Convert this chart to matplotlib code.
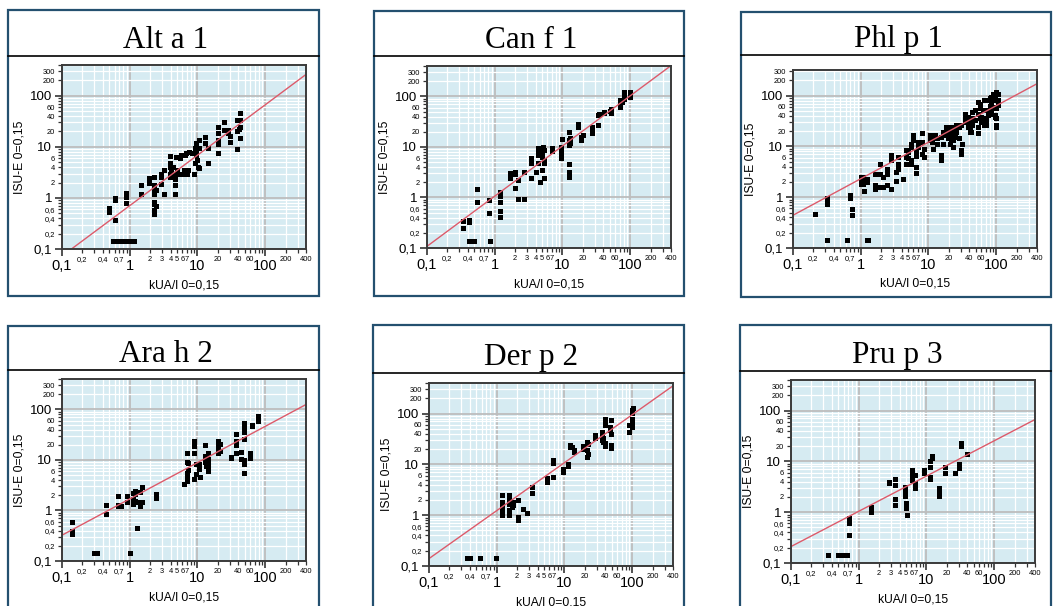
import numpy as np
import matplotlib.pyplot as plt
from matplotlib.patches import Rectangle
from matplotlib.lines import Line2D

plt.rcParams['font.family'] = ['Liberation Sans', 'DejaVu Sans']

W, H = 1057, 606

titles = ['Alt a 1', 'Can f 1', 'Phl p 1', 'Ara h 2', 'Der p 2', 'Pru p 3']

# regression line: log10(y) = slope * log10(x) + icpt
fit_slope = [0.987, 0.993, 0.719, 0.718, 0.944, 0.694]
fit_icpt = [-0.151, 0.026, 0.364, 0.229, 0.090, 0.018]

# Alt a 1
alt_x = [0.49, 0.49, 0.60, 0.60, 0.60, 0.89, 0.89, 0.89,
         0.56, 0.62, 0.68, 0.74, 0.80, 0.87, 0.95, 1.02, 1.10, 1.17,
         1.49, 1.49, 1.9, 1.9, 2.26, 2.26, 2.26, 2.26, 2.26, 2.26, 2.26, 2.26,
         2.47, 2.47, 2.93, 2.93, 2.93, 3.2, 3.2,
         3.88, 3.88, 3.88, 3.88, 3.88, 4.1, 4.35, 4.45, 4.6, 4.6, 4.6,
         4.86, 5.03, 5.32, 5.45, 5.77, 5.96, 6.24, 6.53, 6.83, 7.06, 7.24, 7.6, 8.4, 8.85, 9.06,
         9.6, 9.6, 9.6, 9.6, 9.8, 10.2, 10.5, 10.5, 10.5, 9.06,
         13.1, 13.1, 14.4, 14.4,
         20.2, 20.2, 20.2, 20.2, 20.2, 24.3, 24.3, 28, 28, 30.4, 30.4,
         38.6, 38.6, 38.6, 42.6, 42.6, 42.6, 42.6, 41]
alt_y = [0.645, 0.53, 1.0, 0.9, 0.37, 1.27, 1.05, 0.81,
         0.142, 0.142, 0.142, 0.142, 0.142, 0.142, 0.142, 0.142, 0.142, 0.142,
         1.78, 1.22, 2.48, 1.92, 2.59, 1.78, 1.42, 1.18, 0.83, 0.75, 0.57, 0.49,
         1.42, 0.68, 3.0, 1.86, 2.6, 3.5, 1.2,
         6.7, 4.75, 4.08, 3.0, 2.59, 3.5, 4.08, 3.0, 2.33, 1.78, 1.22,
         6.4, 3.5, 3.0, 5.95, 6.9, 3.0, 3.5, 6.9, 7.5, 3.0, 3.5, 8.05, 7.5, 3.0, 4.75,
         11.8, 10.1, 8.05, 6.9, 5.5, 4.08, 13.7, 9.4, 3.78, 9.4,
         15.4, 11.7, 9.3, 4.9,
         25, 18.5, 13.7, 11.4, 7.7, 30, 21.5, 21.5, 18.5, 16, 12.7,
         34, 20, 9, 46, 34, 25, 14.7, 22]

# Can f 1
can_x = [0.34, 0.34, 0.42, 0.42, 0.42, 0.5, 0.55, 0.55, 0.83, 0.83, 0.85,
         1.2, 1.2, 1.2, 1.2, 1.2, 1.2,
         1.68, 1.68, 1.68, 2.0, 2.0, 2.0, 2.24, 2.24, 2.68, 2.68,
         3.4, 3.4, 3.4, 3.4, 4.08, 4.3, 4.3, 4.3, 4.3, 4.67, 4.67, 4.67, 5.0, 5.0, 5.0,
         5.3, 5.3, 5.3, 5.3, 4.9, 5.1,
         7.0, 7.0, 9.6, 9.6, 9.6, 9.6, 10,
         12.3, 12.3, 12.3, 12.3, 12.3, 12.3, 12.3, 13, 13,
         17.1, 17.1, 18.6, 18.6, 20.3, 27.7, 27.7, 27.7, 27.7, 33.6, 33.6, 35, 41.7, 41.7,
         52.4, 52.4, 50, 71, 71, 71, 75, 80.4, 80.4, 80.4, 98.6, 98.6, 98.6]
can_y = [0.25, 0.35, 0.36, 0.32, 0.14, 0.14, 1.46, 0.81, 0.9, 0.49, 0.14,
         1.31, 1.05, 0.83, 0.53, 0.42, 1.15,
         3.0, 2.4, 2.7, 3.25, 1.53, 2.9, 2.23, 0.94, 3.25, 0.94,
         5.96, 4.75, 2.4, 5.3, 3.25, 9.4, 8.1, 7.0, 4.75, 9.4, 7.6, 2.0, 7.6, 6.4, 3.5,
         8.7, 5.5, 4.75, 2.4, 8.4, 9.8,
         9.4, 8.4, 10.1, 8.1, 7.0, 5.96, 14.1,
         20, 13.7, 11.8, 10.9, 4.6, 3.25, 2.6, 15, 12,
         29, 25, 15.5, 13.7, 17.2, 25, 21.6, 18.6, 23, 42.5, 27, 44, 49, 46,
         57.6, 46, 52, 67, 84, 62, 78, 122, 98, 87, 122, 98, 108]

# Phl p 1
phl_x = [0.21, 0.315, 0.315, 0.315, 0.315, 0.62, 0.69, 0.69, 0.75, 0.75, 1.25, 1.3,
         1.0, 1.0, 1.0, 1.08, 1.08, 1.08, 1.12, 1.23, 1.23,
         1.61, 1.61, 1.61, 1.7, 1.95, 1.95, 1.95, 2.14, 2.14, 2.42, 2.42, 2.42,
         2.77, 2.77, 2.77, 3.37, 3.37, 3.55, 3.55, 3.55, 4.2, 4.6, 4.6, 4.6, 5.0, 5.0,
         5.6, 5.6, 5.6, 5.6, 5.9, 5.9, 6.6, 6.6, 6.6, 6.6, 7.0, 7.0, 7.9, 7.9, 7.9, 8.5, 8.5,
         10.5, 10.5, 10.5, 11.3, 11.6, 12.3, 12.3, 13.2, 13.2, 15.2, 15.2, 15.2,
         16.5, 16.5, 18, 18, 19.5, 19.5, 19.5, 20.6, 20.6, 21.8, 21.8, 21.8, 23, 23,
         24.5, 24.5, 24.5, 25.9, 25.9, 28, 28, 30.6, 30.6, 30.6, 31.6,
         35, 35, 35, 38.5, 38.5, 38.5, 40.5, 40.5, 40.5, 42, 44.5, 44.5, 44.5, 48, 48,
         54, 54, 54, 54, 57, 57, 57, 60, 60, 64, 64, 67, 67, 71, 71, 71, 76, 76, 76,
         80, 80, 80, 85, 85, 85, 90, 90, 90, 95, 95, 95, 95,
         100, 100, 100, 100, 100, 100, 106, 106, 106]
phl_y = [0.47, 0.98, 0.81, 0.73, 0.146, 0.146, 1.1, 0.98, 0.58, 0.44, 0.146, 0.146,
         2.5, 2.0, 1.86, 2.5, 2.2, 1.86, 1.33, 2.33, 2.0,
         2.9, 1.72, 1.48, 2.9, 4.47, 2.9, 1.6, 2.5, 1.6, 3.67, 2.9, 1.72,
         6.7, 5.35, 1.48, 3.15, 2.1, 6.2, 4.6, 3.67, 2.33, 8.4, 6.2, 4.6, 7.8, 5.8,
         11.4, 9.8, 5.5, 4.6, 16.7, 13.3, 7.8, 6.4, 3.95, 3.0, 12.4, 9.8, 18.5, 12.4, 7.2, 9.0, 6.2,
         16.7, 15.5, 13.3, 12.4, 9.0, 16.7, 14.4, 14.4, 11.4, 15.5, 6.7, 5.5,
         19.5, 11.4, 24.3, 16.7, 24.3, 21, 14.4, 19.5, 11.4, 24.3, 15.5, 13.3, 13.3, 9.8,
         21, 18, 15.5, 26, 19.5, 24.3, 14.4, 26, 8.4, 7.2, 11.4,
         44.5, 38, 30, 38, 28, 24.3, 33, 24, 19.5, 19.5, 48, 36, 26, 52, 33,
         75, 44.5, 24.3, 18, 70, 56, 36, 38, 30, 52, 36, 81, 26, 52, 33, 26, 81, 47, 42,
         88, 62, 44, 95, 75, 52, 110, 81, 60, 100, 81, 42, 38,
         118, 81, 56, 36, 26, 24, 110, 81, 64]

# Ara h 2
ara_x = [0.142, 0.142, 0.142, 0.30, 0.33, 0.45, 0.45, 0.67, 0.67, 0.67, 0.75,
         0.92, 0.92, 1.0, 1.1, 1.1, 1.1, 1.18, 1.18, 1.18, 1.3, 1.3, 1.4, 1.4, 1.54, 1.54,
         2.42, 2.42, 6.27, 6.9, 6.9, 6.9, 6.9, 6.9, 7.3, 7.3,
         8.8, 8.8, 8.8, 8.8, 9.6, 9.6, 10.5, 10.5, 10.8,
         12.8, 12.8, 12.8, 13.5, 13.5, 14.3, 14.3, 14.3, 14.5, 14.5,
         20, 20, 20, 20, 21.6, 21.6, 31.5, 31.5, 36.6, 36.6, 36.6, 36.6,
         44.5, 44.5, 48.8, 48.8, 48.8, 48.8, 48.8, 48.8, 48.8,
         59, 59, 63, 63, 77, 77, 77]
ara_y = [0.58, 0.40, 0.34, 0.146, 0.146, 1.28, 0.85, 1.9, 1.28, 1.24, 1.24,
         1.95, 1.48, 0.146, 2.17, 1.37, 1.67, 2.44, 2.1, 1.55, 1.48, 0.46, 2.3, 1.24, 2.9, 1.44,
         2.1, 1.8, 3.3, 13.7, 9.2, 5.6, 4.8, 3.8, 8.8, 6.2,
         24, 19, 14, 4.2, 8.3, 5.2, 8.3, 6.6, 4.5,
         20, 12, 9.2, 11, 7.6, 14, 7.6, 6.0, 10.3, 8.3,
         24, 19, 15, 14, 21, 15, 11.5, 11, 32, 24, 20, 14,
         14.4, 10.3, 55, 44, 35, 25.5, 9.8, 8.2, 5.6,
         14, 11, 50, 46, 74, 63, 58]

# Der p 2
der_x = [0.37, 0.40, 0.57, 0.98,
         1.19, 1.19, 1.19, 1.19, 1.19, 1.54, 1.54, 1.54, 1.54, 1.54, 1.66, 1.66, 1.76, 1.76,
         2.04, 2.04, 2.04, 2.48, 2.77, 3.33, 3.33, 5.48, 5.48, 6.7, 6.7, 6.7,
         9.4, 9.4, 11.2, 11.2, 12.1, 12.1, 12.8, 13.9, 13.9,
         19, 19, 21.3, 21.3, 21.3, 22.5, 22.5, 28.2, 28.2, 35.5, 35.5, 35.5, 37.6, 37.6,
         39.8, 39.8, 39.8, 39.8, 39.8, 47, 47, 48, 48, 48, 48,
         91, 91, 98.5, 98.5, 98.5, 98.5, 98.5, 104]
der_y = [0.144, 0.144, 0.144, 0.144,
         2.48, 1.83, 1.57, 1.25, 1.03, 2.48, 2.03, 1.65, 1.25, 1.0, 1.7, 1.46, 1.83, 1.57,
         1.97, 0.93, 0.82, 1.35, 1.1, 3.6, 2.75, 5.3, 4.5, 12.1, 10.7, 5.7,
         8.3, 7.2, 10.4, 9.2, 24, 22, 22, 19, 17.5,
         23, 20.5, 28, 19, 14, 25, 16, 37.6, 32.5, 43.7, 35, 30, 33, 28,
         80, 69, 59, 26, 23, 55, 47.5, 76, 40, 24, 21.5,
         59, 43.7, 117, 101, 80, 64, 55, 128]

# Pru p 3
pru_x = [0.35, 0.50, 0.59, 0.64, 0.67, 0.71, 0.71, 0.71,
         1.54, 1.54, 1.54, 2.77, 2.77, 3.4, 3.4, 3.4, 3.4,
         4.78, 4.78, 4.78, 5.05, 5.05, 5.24, 6.2, 6.2, 6.2, 6.2, 6.7, 6.7, 6.7,
         9.2, 9.2, 11.4, 11.4, 11.4, 11.4, 12.2, 12.2, 15.5, 15.5, 15.5,
         18.6, 18.6, 26, 29.8, 29.8, 32, 32, 40]
pru_y = [0.146, 0.146, 0.146, 0.146, 0.146, 0.76, 0.61, 0.36,
         1.29, 1.11, 1.03, 4.0, 3.8, 4.5, 3.5, 1.8, 1.4,
         3.2, 2.55, 2.04, 1.5, 1.2, 0.89, 6.8, 5.7, 5.0, 4.3, 5.4, 3.7, 3.05,
         6.8, 5.9, 10, 7.9, 5.0, 4.6, 12.5, 11.6, 2.97, 2.55, 2.04,
         7.9, 5.9, 5.9, 9, 7.4, 22.9, 20.3, 14]

xs_all = [alt_x, can_x, phl_x, ara_x, der_x, pru_x]
ys_all = [alt_y, can_y, phl_y, ara_y, der_y, pru_y]
y_top = [400, 400, 320, 400, 400, 400]

x_major = [0.1, 1, 10, 100]
x_major_lab = ['0,1', '1', '10', '100']
x_minor_lab = {0.2: '0,2', 0.4: '0,4', 0.7: '0,7', 2: '2', 3: '3', 4: '4', 5: '5',
               6: '6', 7: '7', 20: '20', 40: '40', 60: '60', 200: '200', 400: '400'}
y_minor_lab = {0.2: '0,2', 0.4: '0,4', 0.6: '0,6', 2: '2', 4: '4', 6: '6',
               20: '20', 40: '40', 60: '60', 200: '200', 300: '300'}

# pixel layout: panel frame (l, t, r, b), header divider y, plot area (l, t, r, b)
frames = [(8, 10, 319, 296), (374, 11, 684, 296), (741, 12, 1051, 297),
          (8, 326, 319, 612), (373, 325, 684, 612), (740, 325, 1051, 612)]
dividers = [56, 56, 55, 370, 373, 371]
plot_px = [(62, 65, 306, 249), (427, 66, 671, 248), (793, 70, 1037, 248),
           (62, 379, 306, 561), (429, 383, 673, 566), (791, 380, 1035, 563)]

minor_vals = np.concatenate([np.arange(2, 10) * d for d in (0.1, 1, 10)] + [np.array([200, 300, 400])])

fig = plt.figure(figsize=(W / 100, H / 100), dpi=100)

for i in range(6):
    fl, ft, fr, fb = frames[i]
    fig.add_artist(Rectangle((fl / W, 1 - fb / H), (fr - fl) / W, (fb - ft) / H,
                             transform=fig.transFigure, fill=False,
                             edgecolor='#24506f', lw=1.6))
    d = dividers[i]
    fig.add_artist(Line2D([fl / W, fr / W], [1 - d / H, 1 - d / H],
                          transform=fig.transFigure, color='black', lw=1.2))
    fig.text((fl + fr) / 2 / W + 0.002, 1 - (d - 8) / H, titles[i], ha='center', va='baseline',
             fontsize=22.5, family='Liberation Serif')

    pl, pt, pr, pb = plot_px[i]
    ax = fig.add_axes([pl / W, 1 - pb / H, (pr - pl) / W, (pb - pt) / H])
    ax.set_xscale('log')
    ax.set_yscale('log')
    ax.set_facecolor('#d6ebf2')
    ax.set_axisbelow(True)

    ax.set_xticks(x_major, x_major_lab)
    ax.set_yticks(x_major, x_major_lab)
    ax.set_xticks(minor_vals, [x_minor_lab.get(round(v, 3), '') for v in minor_vals], minor=True)
    ax.set_yticks(minor_vals, [y_minor_lab.get(round(v, 3), '') for v in minor_vals], minor=True)
    ax.set_xlim(0.1, 400)
    ax.set_ylim(0.1, y_top[i])

    ax.grid(which='minor', color='white', lw=0.9)
    ax.grid(which='major', color='#bdbdbd', lw=1.3)
    ax.tick_params(which='major', length=5, width=1.2, color='#333333', pad=2)
    ax.tick_params(which='minor', length=3, width=0.9, color='#333333', pad=2, labelsize=5.4)
    ax.tick_params(axis='x', which='major', labelsize=10.5)
    ax.tick_params(axis='y', which='major', labelsize=9.5)
    for s in ax.spines.values():
        s.set_color('#3a3a3a')
        s.set_linewidth(1.4)

    ax.plot(xs_all[i], ys_all[i], 's', color='black', ms=3.6, mew=0)
    lx = np.array([0.1, 400])
    ax.plot(lx, 10 ** (fit_slope[i] * np.log10(lx) + fit_icpt[i]), color='#dd5a6a', lw=1)

    ax.set_xlabel('kUA/l 0=0,15', fontsize=8.7)
    ax.set_ylabel('ISU-E 0=0,15', fontsize=8.7)
    ax.xaxis.set_label_coords(0.5, -0.165)
    ax.yaxis.set_label_coords(-0.15, 0.5)

fig.savefig('out.png', dpi=100)
